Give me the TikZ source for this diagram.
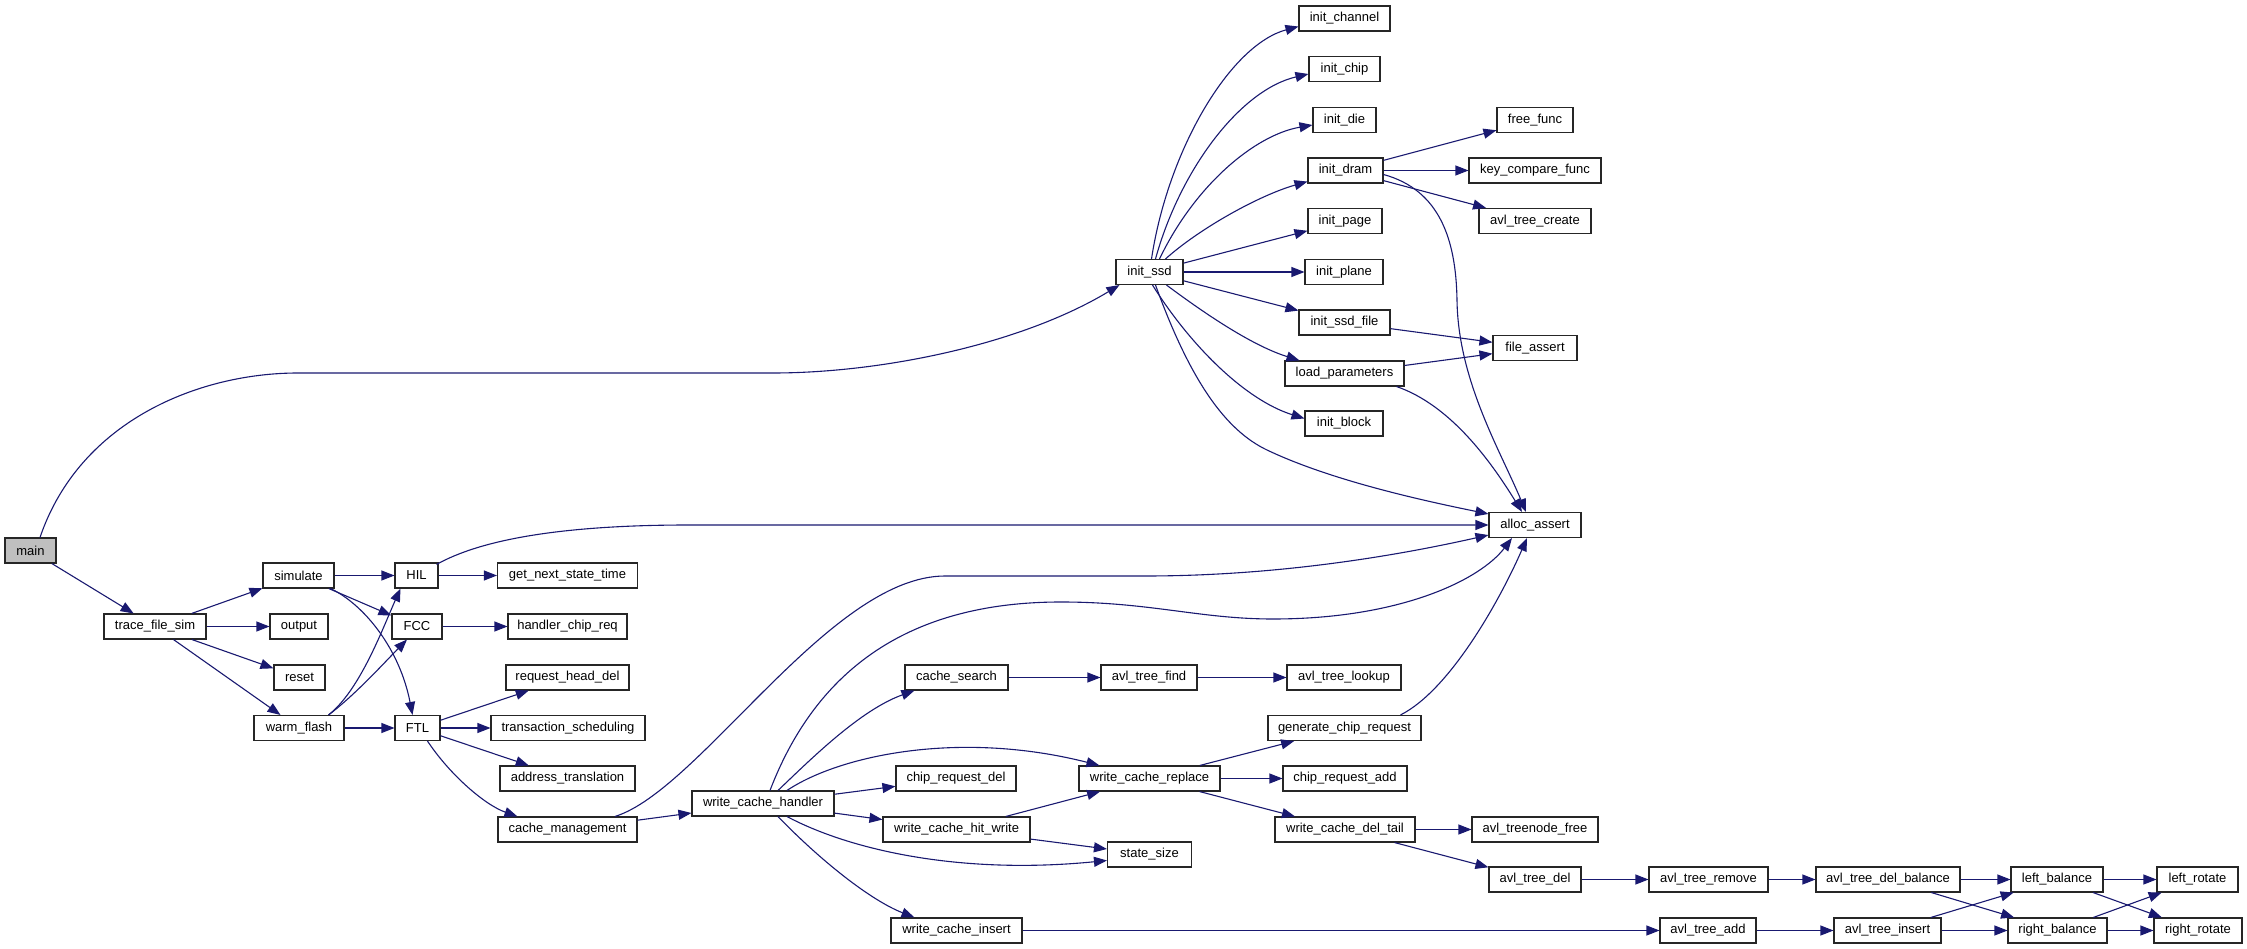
\documentclass[tikz,border=0pt]{standalone}
\usepackage{fontspec}
\setmainfont{Liberation Sans}
\usetikzlibrary{arrows.meta,calc}
\definecolor{edgec}{HTML}{191970}
\definecolor{maingray}{HTML}{BFBFBF}
\begin{document}
\begin{tikzpicture}[x=1pt,y=-1pt,
  fn/.style={draw=black!85,line width=1.1pt,minimum height=25pt,inner sep=0pt,
    font=\fontsize{13}{15}\selectfont,fill=white},
  edge/.style={draw=edgec,line width=1.1pt,-{Triangle[length=13pt,width=10pt]}}]
\useasboundingbox (0,0) rectangle (2247,949);
% ---- nodes ----
\node[fn,minimum width=51pt,fill=maingray] (main) at (30.5,550.5) {main};
\node[fn,minimum width=102pt] (tfs) at (155,626.5) {trace\_file\_sim};
\node[fn,minimum width=71pt] (sim) at (298.5,575.5) {simulate};
\node[fn,minimum width=58pt] (out) at (299,626.5) {output};
\node[fn,minimum width=51pt] (rst) at (299.5,677.5) {reset};
\node[fn,minimum width=90pt] (wf) at (299,728) {warm\_flash};
\node[fn,minimum width=43pt] (hil) at (416.5,575.5) {HIL};
\node[fn,minimum width=50pt] (fcc) at (417,626.5) {FCC};
\node[fn,minimum width=45pt] (ftl) at (417.5,728) {FTL};
\node[fn,minimum width=140pt] (gnst) at (567.5,575.5) {get\_next\_state\_time};
\node[fn,minimum width=119pt] (hcr) at (567.5,626.5) {handler\_chip\_req};
\node[fn,minimum width=123pt] (rhd) at (567.5,677.5) {request\_head\_del};
\node[fn,minimum width=154pt] (ts) at (568,728) {transaction\_scheduling};
\node[fn,minimum width=135pt] (at) at (567.5,778.5) {address\_translation};
\node[fn,minimum width=139pt] (cm) at (567.5,829.5) {cache\_management};
\node[fn,minimum width=142pt] (wch) at (763,803.5) {write\_cache\_handler};
\node[fn,minimum width=103pt] (cs) at (956.5,677.5) {cache\_search};
\node[fn,minimum width=120pt] (crd) at (956,778.5) {chip\_request\_del};
\node[fn,minimum width=147pt] (wchw) at (956.5,829.5) {write\_cache\_hit\_write};
\node[fn,minimum width=131pt] (wci) at (956.5,930.5) {write\_cache\_insert};
\node[fn,minimum width=67pt] (issd) at (1149.5,272) {init\_ssd};
\node[fn,minimum width=96pt] (atf) at (1149,677.5) {avl\_tree\_find};
\node[fn,minimum width=141pt] (wcr) at (1149.5,778.5) {write\_cache\_replace};
\node[fn,minimum width=84pt] (ss) at (1149.5,854.5) {state\_size};
\node[fn,minimum width=91pt] (ich) at (1344.5,18.5) {init\_channel};
\node[fn,minimum width=71pt] (ichp) at (1344.5,69) {init\_chip};
\node[fn,minimum width=63pt] (idie) at (1344.5,120) {init\_die};
\node[fn,minimum width=75pt] (idram) at (1345.5,170.5) {init\_dram};
\node[fn,minimum width=74pt] (ipage) at (1345,221) {init\_page};
\node[fn,minimum width=78pt] (iplane) at (1344,272) {init\_plane};
\node[fn,minimum width=91pt] (issdf) at (1344.5,322.5) {init\_ssd\_file};
\node[fn,minimum width=119pt] (lp) at (1344.5,373.5) {load\_parameters};
\node[fn,minimum width=78pt] (iblk) at (1344,423.5) {init\_block};
\node[fn,minimum width=114pt] (atl) at (1344,677.5) {avl\_tree\_lookup};
\node[fn,minimum width=153pt] (gcr) at (1344.5,728) {generate\_chip\_request};
\node[fn,minimum width=124pt] (cra) at (1345,778.5) {chip\_request\_add};
\node[fn,minimum width=140pt] (wcdt) at (1345,829.5) {write\_cache\_del\_tail};
\node[fn,minimum width=76pt] (ff) at (1535,120) {free\_func};
\node[fn,minimum width=132pt] (kcf) at (1535,170.5) {key\_compare\_func};
\node[fn,minimum width=112pt] (atc) at (1535,221) {avl\_tree\_create};
\node[fn,minimum width=84pt] (fa) at (1535,348) {file\_assert};
\node[fn,minimum width=92pt] (aa) at (1535,525) {alloc\_assert};
\node[fn,minimum width=126pt] (atnf) at (1535,829.5) {avl\_treenode\_free};
\node[fn,minimum width=92pt] (atd) at (1535,879.5) {avl\_tree\_del};
\node[fn,minimum width=119pt] (atr) at (1708.5,879.5) {avl\_tree\_remove};
\node[fn,minimum width=96pt] (ata) at (1708,930.5) {avl\_tree\_add};
\node[fn,minimum width=144pt] (atdb) at (1888,879.5) {avl\_tree\_del\_balance};
\node[fn,minimum width=107pt] (ati) at (1887.5,930.5) {avl\_tree\_insert};
\node[fn,minimum width=92pt] (lb) at (2057,879.5) {left\_balance};
\node[fn,minimum width=99pt] (rb) at (2057.5,930.5) {right\_balance};
\node[fn,minimum width=81pt] (lr) at (2197.5,879.5) {left\_rotate};
\node[fn,minimum width=88pt] (rr) at (2198,930.5) {right\_rotate};
% ---- straight edges ----
\foreach \a/\b in {main/tfs,tfs/sim,tfs/out,tfs/rst,tfs/wf,sim/hil,sim/fcc,wf/ftl,
  hil/gnst,fcc/hcr,ftl/rhd,ftl/ts,ftl/at,cm/wch,wch/crd,wch/wchw,wchw/wcr,wchw/ss,
  cs/atf,atf/atl,wcr/gcr,wcr/cra,wcr/wcdt,wcdt/atnf,wcdt/atd,atd/atr,atr/atdb,
  wci/ata,ata/ati,atdb/lb,atdb/rb,ati/lb,ati/rb,lb/lr,lb/rr,rb/lr,rb/rr,
  issd/ipage,issd/iplane,issd/issdf,idram/ff,idram/kcf,idram/atc,issdf/fa,lp/fa}
  \draw[edge] (\a) -- (\b);
% ---- curved edges ----
\draw[edge] ($(main.north)+(9.5,0)$) .. controls (80,420) and (200,373) .. (298,373)
  -- (773,373) .. controls (880,373) and (1020,345) .. ($(issd.south west)+(4,0)$);
\draw[edge] ($(hil.north east)+(-2,2)$) .. controls (480,540) and (560,525) .. (689,525) -- (aa.west);
\draw[edge] ($(cm.north)+(47.5,0)$) .. controls (700,790) and (830,576) .. (945,576)
  -- (1145,576) .. controls (1280,576) and (1400,555) .. ($(aa.south west)+(0,-3)$);
\draw[edge] ($(wch.north)+(7,0)$) .. controls (820,660) and (920,602) .. (1061,602)
  .. controls (1150,602) and (1200,619) .. (1273,619)
  .. controls (1400,619) and (1480,580) .. ($(aa.south)+(-23,0)$);
\draw[edge] ($(gcr.north)+(56,0)$) .. controls (1450,690) and (1500,600) .. ($(aa.south)+(-8,0)$);
\draw[edge] ($(idram.east)+(0,4)$) .. controls (1440,190) and (1456,240) .. (1457,300)
  .. controls (1458,380) and (1500,450) .. ($(aa.north)+(-9,0)$);
\draw[edge] ($(lp.south east)+(-8,0)$) .. controls (1450,405) and (1490,460) .. ($(aa.north)+(-13,0)$);
\draw[edge] ($(issd.south)+(6,0)$) .. controls (1190,380) and (1225,430) .. (1267,450)
  .. controls (1330,480) and (1420,500) .. ($(aa.north west)+(0,2)$);
\draw[edge] ($(issd.south)+(3,0)$) .. controls (1190,345) and (1245,400) .. ($(iblk.west)+(0,-5)$);
\draw[edge] ($(issd.south)+(17,0)$) .. controls (1200,310) and (1250,345) .. ($(lp.north west)+(15,0)$);
\draw[edge] ($(issd.north)+(16,0)$) .. controls (1200,228) and (1260,195) .. ($(idram.south west)+(0,-2)$);
\draw[edge] ($(issd.north)+(10,0)$) .. controls (1195,185) and (1255,135) .. ($(idie.west)+(0,5)$);
\draw[edge] ($(issd.north)+(6,0)$) .. controls (1180,170) and (1240,90) .. ($(ichp.west)+(0,5)$);
\draw[edge] ($(issd.north)+(2,0)$) .. controls (1168,150) and (1230,45) .. ($(ich.west)+(0,8)$);
\draw[edge] ($(sim.south east)+(-4,0)$) .. controls (365,605) and (400,650) .. ($(ftl.north)+(-5,0)$);
\draw[edge] ($(wf.north east)+(-16,0)$) .. controls (360,690) and (382,630) .. ($(hil.south)+(-16,0)$);
\draw[edge] ($(wf.north east)+(-16,0)$) .. controls (355,695) and (385,662) .. ($(fcc.south)+(-10,0)$);
\draw[edge] ($(ftl.south)+(10,0)$) .. controls (450,775) and (485,805) .. ($(cm.north west)+(20,0)$);
\draw[edge] ($(wch.north)+(15,0)$) .. controls (810,760) and (860,710) .. ($(cs.south west)+(10,0)$);
\draw[edge] ($(wch.north)+(24,0)$) .. controls (840,755) and (960,730) .. ($(wcr.north west)+(21,0)$);
\draw[edge] ($(wch.south)+(24,0)$) .. controls (850,850) and (960,875) .. ($(ss.west)+(0,6)$);
\draw[edge] ($(wch.south)+(15,0)$) .. controls (820,860) and (870,900) .. ($(wci.north west)+(24,0)$);
\end{tikzpicture}
\end{document}
